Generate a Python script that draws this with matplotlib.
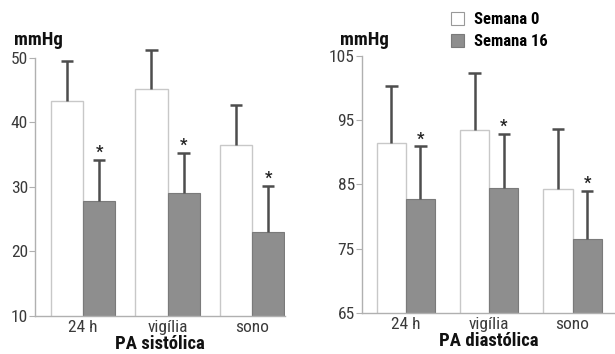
import matplotlib
matplotlib.use("Agg")
import matplotlib.pyplot as plt
import numpy as np
from matplotlib.patches import Patch

plt.rcParams['font.family'] = ['Roboto Condensed', 'Roboto', 'DejaVu Sans']

categories = ["24 h", "vigília", "sono"]
sys_w0 = [43.3, 45.1, 36.5]
sys_w0_err = [6.2, 6.1, 6.2]
sys_w16 = [27.8, 29.1, 22.9]
sys_w16_err = [6.3, 6.1, 7.2]
dia_w0 = [91.4, 93.5, 84.2]
dia_w0_err = [9.0, 8.9, 9.5]
dia_w16 = [82.7, 84.5, 76.5]
dia_w16_err = [8.2, 8.4, 7.5]
legend_labels = ["Semana 0", "Semana 16"]

W = 615; H = 354
fig = plt.figure(figsize=(W/100, H/100), dpi=100)

white_edge = "#c8c8c8"
gray_face = "#8e8e8e"
gray_edge = "#7a7a7a"
err_col = "#4d4d4d"
spine_col = "#b0b0b0"

def errbars(ax, xs, vals, errs, cap, z):
    xs = np.asarray(xs); vals = np.asarray(vals); tops = vals + np.asarray(errs)
    ax.vlines(xs, vals, tops, colors=err_col, linewidth=1.8, zorder=z, clip_on=False)
    ax.hlines(tops, xs - cap, xs + cap, colors=err_col, linewidth=1.8, zorder=z, clip_on=False)

def draw(ax, w0, w0e, w16, w16e, ylim, yticks, xlim, width, xlabel):
    x = np.arange(len(categories))
    ax.bar(x - width/2, w0, width, color="white", edgecolor=white_edge, linewidth=1.0, zorder=2)
    ax.bar(x + width/2, w16, width, color=gray_face, edgecolor=gray_edge, linewidth=0.8, zorder=2)
    cap = 0.075
    errbars(ax, x - width/2, w0, w0e, cap, 3)
    errbars(ax, x + width/2, w16, w16e, cap, 3)
    for xi, v, e in zip(x, w16, w16e):
        ax.annotate("*", (xi + width/2, v + e), xytext=(0, 0), textcoords="offset points",
                    ha="center", va="bottom", fontsize=12, fontweight="bold", color="#222222")
    ax.set_ylim(*ylim)
    ax.set_xlim(*xlim)
    ax.set_yticks(yticks)
    ax.set_xticks(x)
    ax.set_xticklabels(categories)
    ax.tick_params(axis='y', length=4, width=0.8, color=spine_col, labelsize=12.5, labelcolor="#3a3a3a", pad=1)
    ax.tick_params(axis='x', length=0, labelsize=12.5, labelcolor="#3a3a3a", pad=3)
    for s in ["top", "right"]:
        ax.spines[s].set_visible(False)
    for s in ["left", "bottom"]:
        ax.spines[s].set_color(spine_col)
        ax.spines[s].set_linewidth(1.0)
    ax.set_xlabel(xlabel, fontsize=13.5, fontweight="bold", labelpad=0, color="#111111")

ax1 = fig.add_axes([35/W, 1 - 315.7/H, 250/W, 258/H])
draw(ax1, sys_w0, sys_w0_err, sys_w16, sys_w16_err, (10, 50), [10, 20, 30, 40, 50],
     (-0.568, 2.39), 0.38, "PA sistólica")
ax2 = fig.add_axes([361.7/W, 1 - 312.7/H, 253.3/W, 256.7/H])
draw(ax2, dia_w0, dia_w0_err, dia_w16, dia_w16_err, (65, 105), [65, 75, 85, 95, 105],
     (-0.53, 2.51), 0.35, "PA diastólica")

fig.text(14/W, 1 - 40/H, "mmHg", fontsize=13.5, fontweight="bold", va="center", ha="left", color="#111111")
fig.text(340/W, 1 - 40/H, "mmHg", fontsize=13.5, fontweight="bold", va="center", ha="left", color="#111111")

handles = [Patch(facecolor="white", edgecolor="#999999", linewidth=0.8),
           Patch(facecolor=gray_face, edgecolor=gray_edge, linewidth=0.8)]
leg = fig.legend(handles, legend_labels, loc="upper left", bbox_to_anchor=(451/W, 1 - 12/H),
                 frameon=False, handlelength=0.8, handleheight=0.8, handletextpad=0.6,
                 labelspacing=0.4, borderaxespad=0, borderpad=0,
                 prop={'weight': 'bold', 'size': 12})

fig.savefig("out.png", dpi=100)
